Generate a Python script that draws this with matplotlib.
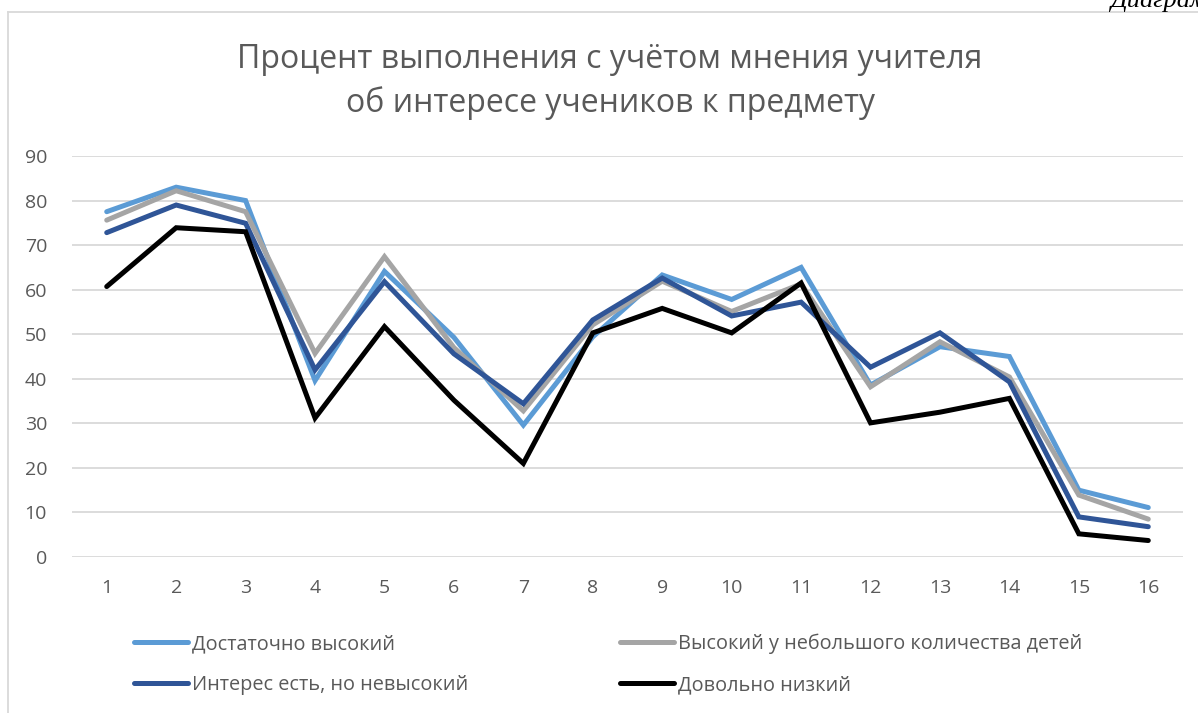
import numpy as np
import matplotlib
matplotlib.use("Agg")
import matplotlib.pyplot as plt
from matplotlib.lines import Line2D

plt.rcParams['font.family'] = ['Open Sans', 'DejaVu Sans']

# data
tasks = list(range(1, 17))
names = ['Достаточно высокий', 'Высокий у небольшого количества детей',
         'Интерес есть, но невысокий', 'Довольно низкий']
high = [77.5, 83.0, 80.0, 39.6, 64.1, 49.3, 29.6, 49.4, 63.3, 57.8, 65.0, 38.6, 47.2, 45.0, 15.0, 11.1]
few_high = [75.6, 82.2, 77.5, 45.7, 67.4, 47.0, 32.8, 52.1, 61.9, 55.1, 61.3, 38.2, 48.3, 40.4, 13.9, 8.5]
moderate = [72.8, 79.0, 74.9, 42.0, 61.8, 45.6, 34.4, 53.2, 62.6, 54.1, 57.2, 42.6, 50.3, 39.3, 9.0, 6.8]
low = [60.7, 73.9, 73.0, 31.2, 51.7, 35.2, 21.0, 50.3, 55.8, 50.3, 61.5, 30.1, 32.5, 35.6, 5.2, 3.7]
yticks = list(range(0, 91, 10))

colors = ['#5B9BD5', '#A5A5A5', '#2F5597', '#000000']
series = [high, few_high, moderate, low]

W, H = 1198, 713
fig = plt.figure(figsize=(W / 100, H / 100), dpi=100)
ax = fig.add_axes([72 / W, 1 - 557 / H, (1183 - 72) / W, (557 - 156) / H])

lines = []
for vals, c, n in zip(series, colors, names):
    ln, = ax.plot(tasks, vals, color=c, lw=3.6, label=n, solid_joinstyle='miter',
                  solid_capstyle='round')
    lines.append(ln)

ax.set_xlim(0.5, 16.5)
ax.set_ylim(0, 90)
ax.set_xticks(tasks)
ax.set_yticks(yticks)
ax.grid(axis='y', color='#D9D9D9', lw=1.3)
ax.set_axisbelow(True)
for s in ax.spines.values():
    s.set_visible(False)
ax.tick_params(length=0, labelsize=14, colors='#595959')
ax.tick_params(axis='x', pad=16)
ax.tick_params(axis='y', pad=18)

fig.text(610 / W, 1 - 60 / H, 'Процент выполнения с учётом мнения учителя',
         ha='center', va='center', fontsize=23, color='#595959')
fig.text(610 / W, 1 - 103 / H, 'об интересе учеников к предмету',
         ha='center', va='center', fontsize=23, color='#595959')

# matplotlib fills legend columns first, so reorder to get rows like the reference
order = [0, 2, 1, 3]
leg = fig.legend([lines[i] for i in order], [names[i] for i in order], ncol=2,
                 loc='upper left', bbox_to_anchor=(116 / W, 1 - 616 / H),
                 frameon=False, fontsize=14.3, handlelength=2.75, handletextpad=0.2,
                 columnspacing=7.6, labelspacing=1.05, labelcolor='#595959')

# chart frame (left and top edges visible in the crop)
fig.add_artist(Line2D([7.5 / W, 7.5 / W], [0, 1 - 12 / H], color='#D9D9D9', lw=1.3))
fig.add_artist(Line2D([7.5 / W, 1], [1 - 12 / H, 1 - 12 / H], color='#D9D9D9', lw=1.3))
fig.text(1110 / W, 1 - 1 / H, 'Диаграмма', fontsize=19, family='Liberation Serif',
         style='italic', va='center', ha='left')

fig.savefig('out.png', dpi=100)
